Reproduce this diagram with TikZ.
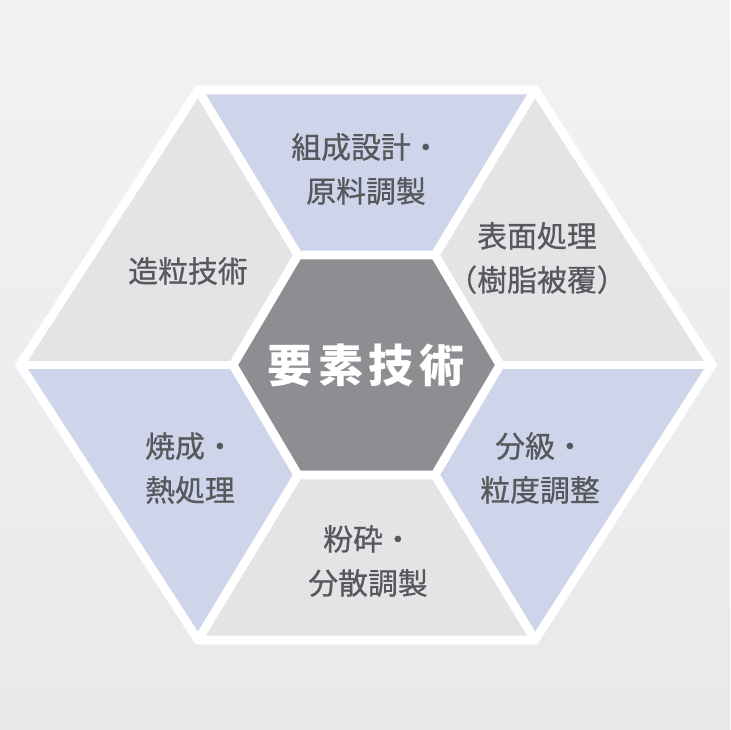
\documentclass[tikz,border=0pt]{standalone}
\usepackage{fontspec}
\setmainfont{Noto Sans CJK JP}
\newfontfamily\segfont{Noto Sans CJK JP}[FakeBold=0.7]
\usepackage{tikz}
\usetikzlibrary{positioning}
\usetikzlibrary{calc}
\definecolor{bgtop}{HTML}{F1F2F3}
\definecolor{bgbot}{HTML}{E8E9EB}
\definecolor{segblue}{HTML}{CED5EA}
\definecolor{seggray}{HTML}{E3E4E6}
\definecolor{coregray}{HTML}{8D8E92}
\definecolor{txtgray}{HTML}{57585C}
\tikzstyle{label}=[text=txtgray,align=center,font=\segfont\fontsize{25.5pt}{37.5pt}\selectfont]
\tikzstyle{sep}=[white,line width=7.5pt,line join=miter]

\begin{document}
\begin{tikzpicture}[x=0.03cm,y=-0.03cm]
\useasboundingbox (0,0) rectangle (730,730);
\shade[top color=bgtop,bottom color=bgbot] (0,0) rectangle (730,730);

% outer corners
\coordinate (o1) at (198,90);
\coordinate (o2) at (535,90);
\coordinate (o3) at (712,365);
\coordinate (o4) at (535,640);
\coordinate (o5) at (198,640);
\coordinate (o6) at (20,365);
% inner corners
\coordinate (i1) at (298,255);
\coordinate (i2) at (435,255);
\coordinate (i3) at (500,365);
\coordinate (i4) at (435,475);
\coordinate (i5) at (298,475);
\coordinate (i6) at (233,365);

\fill[segblue] (o1) -- (o2) -- (i2) -- (i1) -- cycle;
\fill[seggray] (o2) -- (o3) -- (i3) -- (i2) -- cycle;
\fill[segblue] (o3) -- (o4) -- (i4) -- (i3) -- cycle;
\fill[seggray] (o4) -- (o5) -- (i5) -- (i4) -- cycle;
\fill[segblue] (o5) -- (o6) -- (i6) -- (i5) -- cycle;
\fill[seggray] (o6) -- (o1) -- (i1) -- (i6) -- cycle;
\fill[coregray] (i1) -- (i2) -- (i3) -- (i4) -- (i5) -- (i6) -- cycle;

\draw[sep] (o1) -- (o2) -- (o3) -- (o4) -- (o5) -- (o6) -- cycle;
\draw[sep] (i1) -- (i2) -- (i3) -- (i4) -- (i5) -- (i6) -- cycle;
\foreach \k in {1,...,6}
  \draw[sep] (o\k) -- (i\k);

\node [text=white,font=\fontsize{38.5pt}{40pt}\selectfont\bfseries] (core) at (366,365) {要\hspace{0.12em}素\hspace{0.12em}技\hspace{0.12em}術};
\node [label] (design) at (366,169) {組成設計・\\原料調製};
\node [label] (surface) at (537,258) {表面処理\\（樹脂被覆）};
\node [label] (classify) at (540,468) {分級・\\粒度調整};
\node [label] (milling) at (368,561) {粉砕・\\分散調製};
\node [label] (firing) at (190,468) {焼成・\\熱処理};
\node [label] (granule) at (188,271) {造粒技術};
\end{tikzpicture}
\end{document}
